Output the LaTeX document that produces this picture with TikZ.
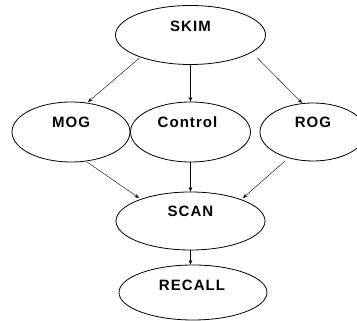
\documentclass[tikz,border=0pt]{standalone}
\usepackage{fontspec}
\setmainfont{Liberation Sans}
\usetikzlibrary{calc,arrows.meta,shapes.geometric}
\newfontfamily\lblfont[LetterSpace=7]{Liberation Sans}
\tikzset{
  oval/.style={draw=black, line width=0.8pt, ellipse, inner sep=0pt},
  lbl/.style={font=\lblfont\bfseries\fontsize{15}{17}\selectfont, text=black},
  conn/.style={draw=black, line width=0.4pt, -{Stealth[length=4.5pt,width=3.5pt]}}
}
\begin{document}
\begin{tikzpicture}[x=1pt,y=1pt]
\useasboundingbox (0,0) rectangle (357,321);
\fill[white] (0,0) rectangle (357,321);
% ellipses
\node[oval, minimum width=150, minimum height=59] (skim) at (190.5,286) {};
\node[oval, minimum width=118, minimum height=60] (mog) at (71,189) {};
\node[oval, minimum width=120, minimum height=60] (control) at (190.5,189) {};
\node[oval, minimum width=106, minimum height=58] (rog) at (313,189) {};
\node[oval, minimum width=149, minimum height=58] (scan) at (190.5,100) {};
\node[oval, minimum width=148, minimum height=55] (recall) at (193,28.5) {};
% labels
\node[lbl] (tskim) at ($(skim.center)+(0,8.5)$) {SKIM};
\node[lbl] (tmog) at ($(mog.center)+(0,9.5)$) {MOG};
\node[lbl] (tcontrol) at ($(control.center)+(-3,9.5)$) {Control};
\node[lbl] (trog) at ($(rog.center)+(0,9.5)$) {ROG};
\node[lbl] (tscan) at ($(scan.center)+(0,9.5)$) {SCAN};
\node[lbl] (trecall) at ($(recall.center)+(-1,7)$) {RECALL};
% connectors
\draw[conn] ($(skim.center)+(-51,-23)$) -- ($(mog.center)+(17,30)$);
\draw[conn] (skim.south) -- (control.north);
\draw[conn] ($(skim.center)+(67,-23)$) -- ($(rog.center)+(-11,29)$);
\draw[conn] ($(mog.center)+(16,-30)$) -- ($(scan.center)+(-51.5,23)$);
\draw[conn] (control.south) -- (control.south |- scan.north);
\draw[conn] ($(rog.center)+(-28,-29)$) -- ($(scan.center)+(52.5,23)$);
\draw[conn] (scan.south) -- (scan.south |- recall.north);
\end{tikzpicture}
\end{document}
